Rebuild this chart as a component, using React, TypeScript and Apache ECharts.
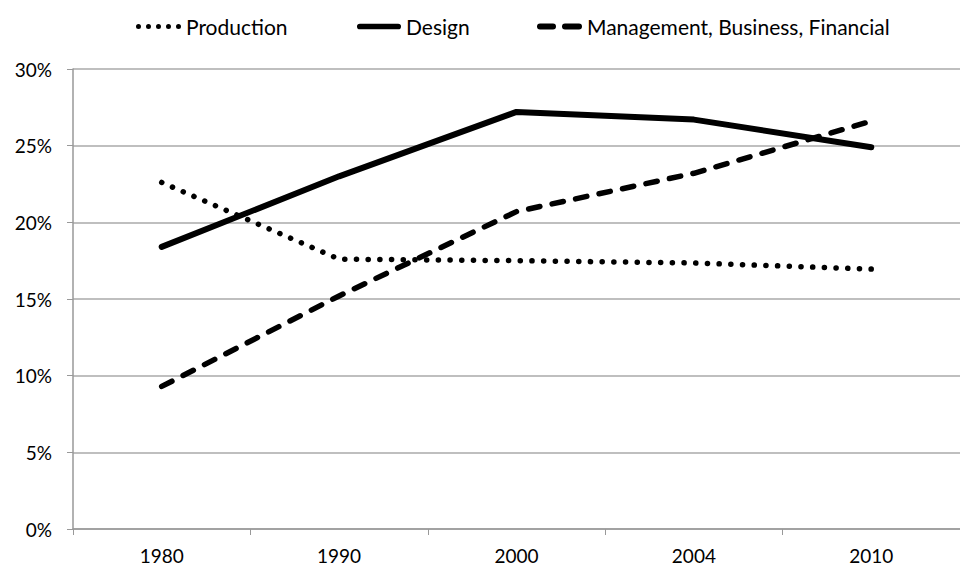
import React, { useEffect, useRef } from "react";
import * as echarts from "echarts";

const years = ["1980", "1990", "2000", "2004", "2010"];
const production = [22.6, 17.6, 17.5, 17.35, 16.95];
const design = [18.4, 23.0, 27.2, 26.7, 24.9];
const management = [9.3, 15.2, 20.7, 23.2, 26.6];
const seriesNames = ["Production", "Design", "Management, Business, Financial"];

const FONT = "Lato";

const circle = (cx: number, cy: number, r: number) =>
  `M${cx - r},${cy} a${r},${r} 0 1,0 ${2 * r},0 a${r},${r} 0 1,0 ${-2 * r},0 Z`;
const pill = (x0: number, x1: number, h: number) => {
  const r = h / 2;
  return `M${x0 + r},0 H${x1 - r} A${r},${r} 0 0 1 ${x1 - r},${h} H${x0 + r} A${r},${r} 0 0 1 ${x0 + r},0 Z`;
};

const dotsIcon =
  "path://" + [0, 1, 2, 3, 4].map((i) => circle(2.5 + i * 10, 2.5, 2.5)).join(" ");
const solidIcon = "path://" + pill(0, 46, 6);
const dashIcon = "path://" + pill(0, 19, 6) + " " + pill(25, 45, 6);

export default function App() {
  const ref = useRef<HTMLDivElement>(null);
  useEffect(() => {
    if (!ref.current) return;
    const chart = echarts.init(ref.current, null, { renderer: "svg" });
    const legendBase = {
      top: 16,
      padding: 0,
      textStyle: { fontFamily: FONT, fontSize: 21, color: "#000" },
      selectedMode: false,
      itemStyle: { color: "#000" },
    };
    chart.setOption({
      animation: false,
      backgroundColor: "#fff",
      legend: [
        {
          ...legendBase,
          left: 136,
          itemWidth: 45,
          itemHeight: 5,
          data: [{ name: seriesNames[0], icon: dotsIcon }],
        },
        {
          ...legendBase,
          left: 357,
          itemWidth: 44,
          itemHeight: 6,
          data: [{ name: seriesNames[1], icon: solidIcon }],
        },
        {
          ...legendBase,
          left: 537,
          itemWidth: 45,
          itemHeight: 6,
          data: [{ name: seriesNames[2], icon: dashIcon }],
        },
      ],
      grid: { left: 73, right: -14, top: 69, bottom: 566 - 529, containLabel: false },
      xAxis: {
        type: "category",
        data: years,
        boundaryGap: true,
        axisLine: { lineStyle: { color: "#999", width: 1.5 } },
        axisTick: { show: true, length: 6, lineStyle: { color: "#999" } },
        axisLabel: {
          fontFamily: FONT,
          fontSize: 19,
          lineHeight: 18,
          color: "#000",
          margin: 17,
        },
      },
      yAxis: {
        type: "value",
        min: 0,
        max: 30,
        interval: 5,
        axisLine: { show: true, lineStyle: { color: "#999", width: 1.5 } },
        axisTick: { show: true, length: 6, lineStyle: { color: "#999" } },
        axisLabel: {
          fontFamily: FONT,
          fontSize: 19,
          color: "#000",
          margin: 21,
          formatter: "{value}%",
        },
        splitLine: { lineStyle: { color: "#aaa", width: 1.5 } },
      },
      series: [
        {
          name: seriesNames[0],
          type: "line",
          data: production,
          symbol: "none",
          color: "#000",
          lineStyle: { color: "#000", width: 5.5, type: [0.1, 11.6], cap: "round" },
        },
        {
          name: seriesNames[1],
          type: "line",
          data: design,
          symbol: "none",
          color: "#000",
          lineStyle: { color: "#000", width: 6, type: "solid", cap: "round" },
        },
        {
          name: seriesNames[2],
          type: "line",
          data: management,
          symbol: "none",
          color: "#000",
          lineStyle: { color: "#000", width: 5.5, type: [11.5, 12.5], cap: "round" },
        },
      ],
    });
    return () => chart.dispose();
  }, []);
  return (
    <div
      ref={ref}
      style={{ position: "absolute", left: 0, top: 0, width: 960, height: 566 }}
    />
  );
}
